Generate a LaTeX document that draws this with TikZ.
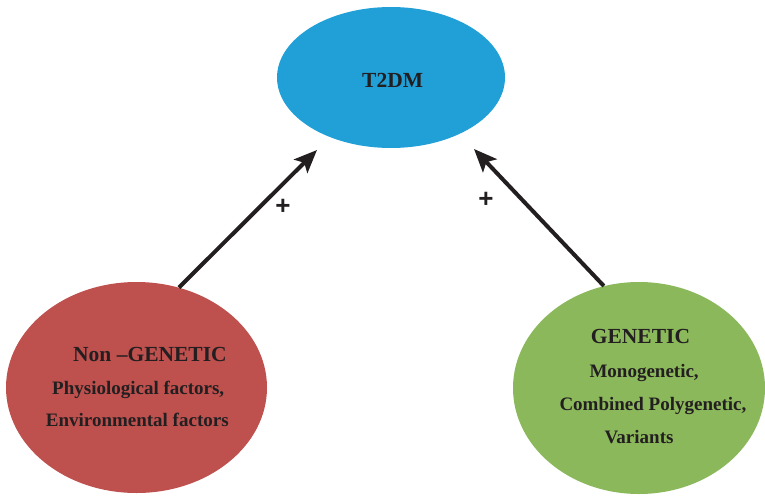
\documentclass[tikz,border=0pt]{standalone}
\usepackage{fontspec}
\setmainfont{Liberation Serif}
\newfontfamily\plusfont{Liberation Sans}
\usetikzlibrary{shapes.geometric,arrows.meta}
\definecolor{tblue}{RGB}{33,160,215}
\definecolor{tred}{RGB}{190,80,78}
\definecolor{tgreen}{RGB}{140,184,92}
\definecolor{tink}{RGB}{35,31,32}
\tikzset{
  blob/.style={ellipse, draw=none, inner sep=0pt},
  head/.style={font=\fontsize{21.5}{24}\selectfont\bfseries, text=tink, inner sep=0pt, anchor=base west},
  body/.style={font=\fontsize{19}{22}\selectfont\bfseries, text=tink, inner sep=0pt, anchor=base west},
  link/.style={line width=4pt, draw=tink, -{Stealth[length=23pt,width=19pt,inset=5pt]}},
  sign/.style={font=\plusfont\fontsize{26}{28}\selectfont\bfseries, text=tink, inner sep=0pt}
}
\begin{document}
\begin{tikzpicture}[x=1pt,y=-1pt]
\useasboundingbox (0,0) rectangle (765,495);
\node[blob, fill=tblue, minimum width=228pt, minimum height=141pt] (t2dm) at (391,77.5) {};
\node[blob, fill=tred, minimum width=261pt, minimum height=211pt] (nong) at (136.5,387.5) {};
\node[blob, fill=tgreen, minimum width=252pt, minimum height=212pt] (gen) at (639,388) {};

\node[head] (t2dmtxt) at (362,87) {T2DM};
\node[head] (nongh) at (73,361) {Non –GENETIC};
\node[body] (nong1) at (52,394) {Physiological factors,};
\node[body] (nong2) at (45.7,426.7) {Environmental factors};
\node[head] (genh) at (590.7,343.3) {GENETIC};
\node[body] (gen1) at (589.3,377.3) {Monogenetic,};
\node[body] (gen2) at (559.3,410.7) {Combined Polygenetic,};
\node[body] (gen3) at (604.3,443.3) {Variants};

\coordinate (tipL) at (317,150);
\coordinate (tipR) at (474,149);
\draw[link] (nong.67.7) -- (tipL);
\draw[link] (gen.109.6) -- (tipR);

\node[sign] (plusL) at (283,207) {+};
\node[sign] (plusR) at (486,200) {+};
\end{tikzpicture}
\end{document}
